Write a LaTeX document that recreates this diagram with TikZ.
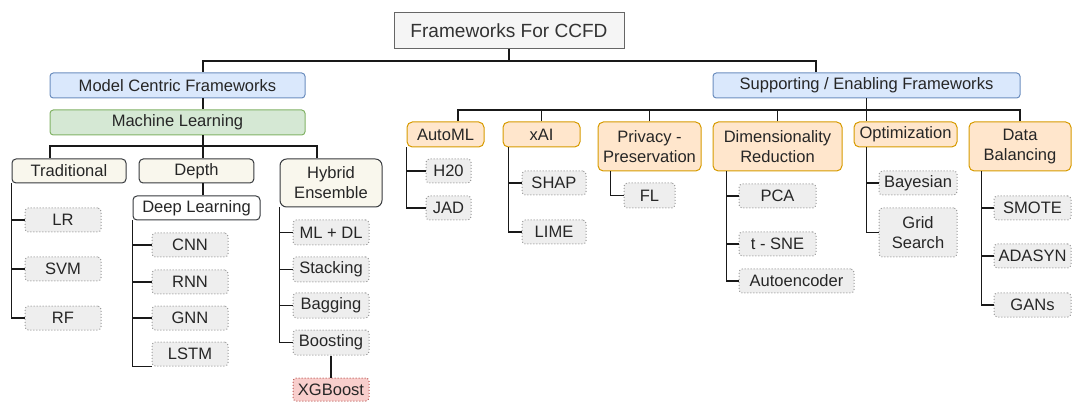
\documentclass[tikz,border=0pt]{standalone}
\usepackage{fontspec}
\setmainfont{Liberation Sans}
\usetikzlibrary{calc}

\begin{document}
\begin{tikzpicture}[x=0.75pt,y=-0.75pt,
    every node/.style={inner sep=0pt, align=center, line width=0.75pt, text=black!85,
        font=\fontsize{12.4}{15}\selectfont},
    root/.style={draw=root_line, fill=root_fill, text=root_text,
        font=\fontsize{14.3}{17}\selectfont, minimum width=172.5pt, minimum height=27pt},
    group/.style={draw=blue_line, fill=blue_fill, rounded corners=2.5pt,
        minimum width=191.25pt, minimum height=18.75pt},
    mlbox/.style={draw=green_line, fill=green_fill, rounded corners=2.5pt,
        minimum width=191.25pt, minimum height=18.75pt},
    kind/.style={draw=dark_line, fill=beige_fill, rounded corners=3pt,
        minimum width=86pt, minimum height=18pt},
    support/.style={draw=orange_line, fill=orange_fill, rounded corners=4pt,
        minimum width=57.75pt, minimum height=18.75pt},
    leaf/.style={draw=leaf_line, fill=leaf_fill, rounded corners=2.5pt,
        dash pattern=on 0.75pt off 1.5pt, minimum width=57pt, minimum height=18pt},
    boost/.style={leaf, draw=red_line, fill=red_fill},
    link/.style={draw=black!90, line width=0.8pt}
]
    \definecolor{root_fill}{HTML}{F5F5F5}
    \definecolor{root_line}{HTML}{666666}
    \definecolor{root_text}{HTML}{333333}
    \definecolor{blue_fill}{HTML}{DAE8FC}
    \definecolor{blue_line}{HTML}{6C8EBF}
    \definecolor{green_fill}{HTML}{D5E8D4}
    \definecolor{green_line}{HTML}{82B366}
    \definecolor{beige_fill}{HTML}{F9F7ED}
    \definecolor{dark_line}{HTML}{36393D}
    \definecolor{orange_fill}{HTML}{FFE6CC}
    \definecolor{orange_line}{HTML}{D79B00}
    \definecolor{leaf_fill}{HTML}{EEEEEE}
    \definecolor{leaf_line}{HTML}{9A9A9A}
    \definecolor{red_fill}{HTML}{F8CECC}
    \definecolor{red_line}{HTML}{B85450}
    %\draw[help lines] (0,0) grid (1080,402);
    \useasboundingbox (0,0) rectangle (1080,402);

    \node[root] (root) at (509,31) {Frameworks For CCFD};

    % model centric side
    \node[group] (mcf) at (177.5,85.5) {Model Centric Frameworks};
    \node[mlbox] (ml) at (177.5,122.5) {Machine Learning};
    \node[kind, minimum width=85.5pt] (trad) at (69,171) {Traditional};
    \node[kind] (depth) at (196.5,171) {Depth};
    \node[kind, minimum width=76.5pt, minimum height=36pt, rounded corners=5pt] (hybrid) at (331,183) {Hybrid\\Ensemble};
    \node[kind, fill=white, minimum width=95.25pt] (dl) at (196.5,208) {Deep Learning};

    \node[leaf] (lr) at (63,220) {LR};
    \node[leaf] (svm) at (63,269) {SVM};
    \node[leaf] (rf) at (63,318) {RF};
    \node[leaf] (cnn) at (190,245) {CNN};
    \node[leaf] (rnn) at (190,282) {RNN};
    \node[leaf] (gnn) at (190,318) {GNN};
    \node[leaf] (lstm) at (190,354) {LSTM};
    \node[leaf, minimum height=18.75pt] (mldl) at (331,232.5) {ML + DL};
    \node[leaf, minimum height=18.75pt] (stacking) at (331,269.5) {Stacking};
    \node[leaf, minimum height=18.75pt] (bagging) at (331,305.5) {Bagging};
    \node[leaf, minimum height=18.75pt] (boosting) at (331,342.5) {Boosting};
    \node[boost, minimum height=17.25pt] (xgboost) at (331,389.5) {XGBoost};

    % supporting side
    \node[group, minimum width=230.25pt] (sef) at (866.5,85.5) {Supporting / Enabling Frameworks};
    \node[support] (automl) at (445.5,134.5) {AutoML};
    \node[support] (xai) at (541.5,134.5) {xAI};
    \node[support, minimum width=77.25pt, minimum height=36.75pt] (priv) at (649.5,146.5) {Privacy -\\Preservation};
    \node[support, minimum width=96.75pt, minimum height=36.75pt] (dim) at (777.5,146.5) {Dimensionality\\Reduction};
    \node[support, minimum width=77.25pt] (opt) at (905.5,134.5) {Optimization};
    \node[support, minimum width=76.5pt, minimum height=36.75pt] (bal) at (1020,146.5) {Data\\Balancing};

    \node[leaf, minimum width=33.75pt] (h20) at (448.5,171) {H20};
    \node[leaf, minimum width=33.75pt] (jad) at (448.5,208) {JAD};
    \node[leaf, minimum width=48pt] (shap) at (554,183) {SHAP};
    \node[leaf, minimum width=48pt] (lime) at (554,232) {LIME};
    \node[leaf, minimum width=38.25pt, minimum height=18.75pt] (fl) at (649.5,195.5) {FL};
    \node[leaf, minimum width=57.75pt] (pca) at (777.5,196) {PCA};
    \node[leaf, minimum width=57.75pt] (tsne) at (777.5,244) {t - SNE};
    \node[leaf, minimum width=86.25pt] (autoenc) at (796.5,281) {Autoencoder};
    \node[leaf, minimum width=58.5pt] (bayes) at (918,183) {Bayesian};
    \node[leaf, minimum width=58.5pt, minimum height=36.75pt] (grid) at (918,232.5) {Grid\\Search};
    \node[leaf, minimum width=57.75pt] (smote) at (1032.5,208) {SMOTE};
    \node[leaf, minimum width=57.75pt] (adasyn) at (1032.5,256) {ADASYN};
    \node[leaf, minimum width=57.75pt] (gans) at (1032.5,305) {GANs};

    % connectors
    \coordinate (mstem) at (203,61);
    \coordinate (sstem) at (816,61);
    \coordinate (mlbus) at (203,146);
    \coordinate (sbus) at (866,110);
    \draw[link] (root.south) |- (mstem) -- (mstem |- mcf.north);
    \draw[link] (root.south) |- (sstem) -- (sstem |- sef.north);
    \draw[link] (mstem |- mcf.south) -- (mstem |- ml.north);
    \draw[link] (mstem |- ml.south) -- (mlbus) -- (mlbus |- depth.north);
    \draw[link] (mlbus) -| ($(trad.north)+(-19,0)$);
    \draw[link] (mlbus) -| ($(hybrid.north)+(-14,0)$);
    \draw[link] (mlbus |- depth.south) -- (mlbus |- dl.north);
    \foreach \c in {lr,svm,rf}
        \draw[link] (trad.south west) |- (\c.west);
    \foreach \c in {cnn,rnn,gnn}
        \draw[link] (dl.south west) |- (\c.west);
    \draw[link] (dl.south west) |- (lstm.south west);
    \foreach \c in {mldl,stacking,bagging,boosting}
        \draw[link] (hybrid.south west) |- (\c.west);
    \draw[link] (boosting.south) -- (xgboost.north);

    \draw[link] (sef.south) -- (sef.south |- opt.north);
    \draw[link] (sbus) -| ($(automl.north)+(12.5,0)$);
    \draw[link] (sbus) -| (bal.north);
    \foreach \c in {xai,priv,dim}
        \draw[link] (\c.north) -- (\c.north |- sbus);
    \foreach \c in {h20,jad}
        \draw[link] (automl.south west) |- (\c.west);
    \foreach \c in {shap,lime}
        \draw[link] ($(xai.south west)+(6,0)$) |- (\c.west);
    \draw[link] ($(priv.south west)+(13,0)$) |- (fl.west);
    \foreach \c in {pca,tsne,autoenc}
        \draw[link] ($(dim.south west)+(14,0)$) |- (\c.west);
    \foreach \c in {bayes,grid}
        \draw[link] ($(opt.south west)+(13,0)$) |- (\c.west);
    \foreach \c in {smote,adasyn,gans}
        \draw[link] ($(bal.south west)+(13,0)$) |- (\c.west);
\end{tikzpicture}
\end{document}
